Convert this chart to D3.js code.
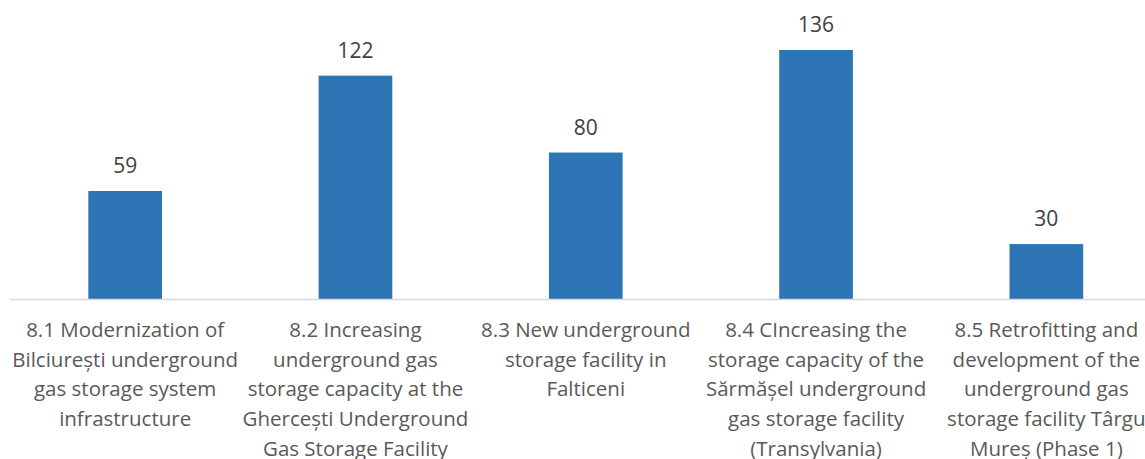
<!DOCTYPE html>
<html>
<head>
<meta charset="utf-8">
<script src="https://cdn.jsdelivr.net/npm/d3@7"></script>
<style>
  html, body { margin: 0; padding: 0; background: #fff; }
  svg { display: block; }
</style>
</head>
<body>
<svg id="chart" width="1145" height="459"></svg>
<script>
const categories = [
  "8.1 Modernization of\nBilciurești underground\ngas storage system\ninfrastructure",
  "8.2 Increasing\nunderground gas\nstorage capacity at the\nGhercești Underground\nGas Storage Facility",
  "8.3 New underground\nstorage facility in\nFalticeni",
  "8.4 CIncreasing the\nstorage capacity of the\nSărmășel underground\ngas storage facility\n(Transylvania)",
  "8.5 Retrofitting and\ndevelopment of the\nunderground gas\nstorage facility Târgu\nMureș (Phase 1)"
];
const values = [59, 122, 80, 136, 30];

const svg = d3.select("#chart");
const baseY = 299;
const font = "'Open Sans', 'Noto Sans', sans-serif";

const x = d3.scaleBand()
  .domain(categories)
  .range([10, 1161.5])
  .paddingInner(0.68)
  .paddingOuter(0.34);

const y = d3.scaleLinear()
  .domain([0, 136])
  .range([baseY, 50]);

// bars
svg.append("g").selectAll("rect")
  .data(values)
  .join("rect")
  .attr("x", (d, i) => x(categories[i]))
  .attr("width", x.bandwidth())
  .attr("y", d => y(d))
  .attr("height", d => y(0) - y(d))
  .attr("fill", "#2e75b6");

// baseline axis
const axis = d3.axisBottom(x).tickSize(0).tickFormat("");
const ax = svg.append("g").attr("transform", `translate(0,${baseY})`).call(axis);
ax.select(".domain").attr("stroke", "#d9d9d9").attr("stroke-width", 1.3)
  .attr("d", "M10,0.5H1145");

// value labels
svg.append("g").selectAll("text")
  .data(values)
  .join("text")
  .attr("x", (d, i) => x(categories[i]) + x.bandwidth() / 2)
  .attr("y", d => y(d) - 18)
  .attr("text-anchor", "middle")
  .attr("font-family", font)
  .attr("font-size", 21)
  .attr("fill", "#404040")
  .text(d => d);

// category labels
const lab = svg.append("g").selectAll("text")
  .data(categories)
  .join("text")
  .attr("text-anchor", "middle")
  .attr("font-family", font)
  .attr("font-size", 20.5)
  .attr("fill", "#595959");
lab.each(function(c) {
  const t = d3.select(this);
  const cx = x(c) + x.bandwidth() / 2;
  c.split("\n").forEach((line, k) => {
    t.append("tspan").attr("x", cx).attr("y", 337 + k * 29.7).text(line);
  });
});
</script>
</body>
</html>
